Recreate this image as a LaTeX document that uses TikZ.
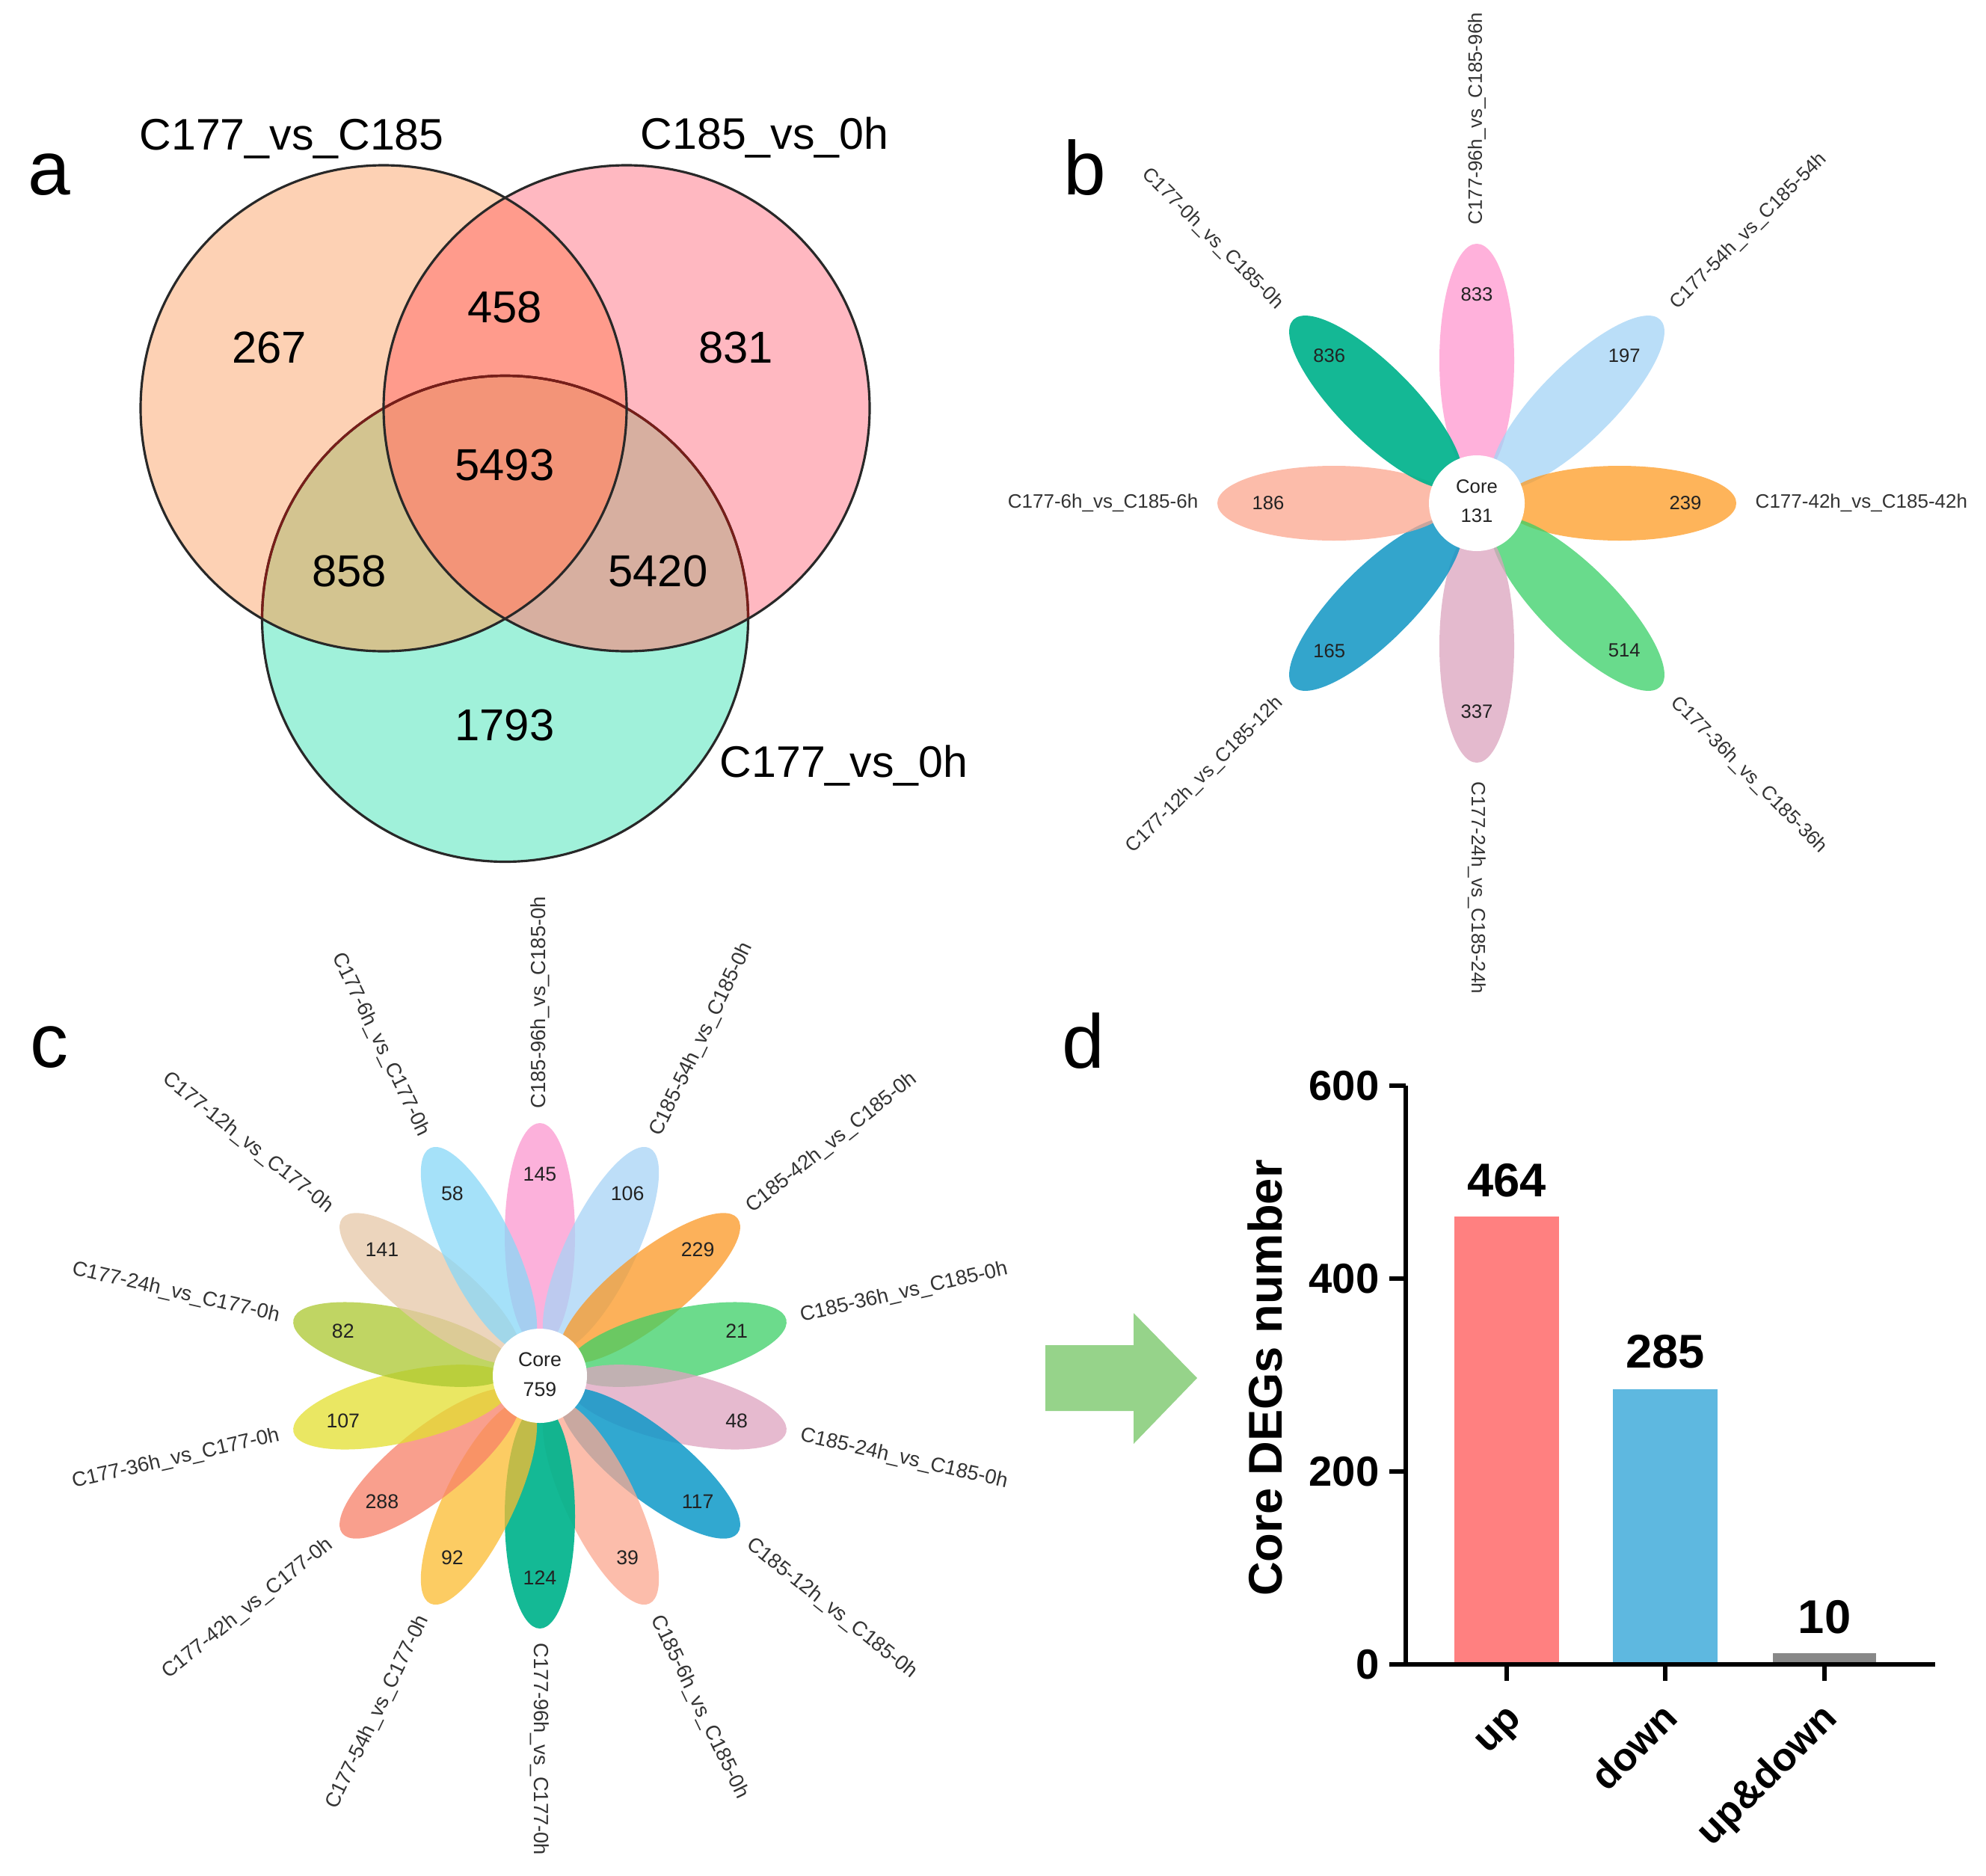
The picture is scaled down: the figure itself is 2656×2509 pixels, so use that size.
\documentclass[tikz,border=0pt]{standalone}
\usepackage{fontspec}
\setmainfont{Liberation Sans}
\usetikzlibrary{calc}
% Venn colours
\definecolor{vA}{RGB}{253,209,180}
\definecolor{vB}{RGB}{255,184,193}
\definecolor{vC}{RGB}{160,241,218}
\definecolor{vAB}{RGB}{255,155,140}
\definecolor{vAC}{RGB}{211,196,144}
\definecolor{vBC}{RGB}{215,175,160}
\definecolor{vABC}{RGB}{243,148,120}
\definecolor{vred}{RGB}{120,30,25}
\definecolor{vblack}{RGB}{40,40,40}
% flower b (base colours, drawn semi-transparent)
\definecolor{bPk}{RGB}{255,152,208}
\definecolor{bLb}{RGB}{164,211,246}
\definecolor{bOr}{RGB}{254,155,35}
\definecolor{bGr}{RGB}{56,207,102}
\definecolor{bMv}{RGB}{219,164,190}
\definecolor{bBl}{RGB}{16,150,196}
\definecolor{bSa}{RGB}{252,166,142}
\definecolor{bTe}{RGB}{0,179,141}
% flower c
\definecolor{cPk}{RGB}{251,152,208}
\definecolor{cLb}{RGB}{168,211,246}
\definecolor{cOr}{RGB}{251,152,35}
\definecolor{cGr}{RGB}{59,208,102}
\definecolor{cMv}{RGB}{222,164,192}
\definecolor{cBl}{RGB}{14,153,200}
\definecolor{cSa}{RGB}{252,168,144}
\definecolor{cTe}{RGB}{0,180,141}
\definecolor{cYo}{RGB}{252,188,48}
\definecolor{cCo}{RGB}{248,128,104}
\definecolor{cYe}{RGB}{227,224,48}
\definecolor{cOl}{RGB}{171,200,48}
\definecolor{cTa}{RGB}{230,200,168}
\definecolor{cSb}{RGB}{136,216,248}
% bars
\definecolor{arrowgreen}{RGB}{150,211,138}
\definecolor{barup}{RGB}{255,128,128}
\definecolor{bardown}{RGB}{94,184,224}
\definecolor{barboth}{RGB}{136,136,136}
\definecolor{numgray}{RGB}{34,34,34}
\definecolor{labgray}{RGB}{51,51,51}
\tikzset{
  plet/.style={font=\fontsize{29}{34}\selectfont, inner sep=0, anchor=base west},
  vnum/.style={font=\fontsize{17}{20}\selectfont, inner sep=0},
  vlab/.style={font=\fontsize{16.8}{20}\selectfont, inner sep=0, anchor=base west},
  vline/.style={line width=0.9pt, draw=vblack},
  bnum/.style={font=\fontsize{7.3}{9}\selectfont, inner sep=0, text=numgray},
  blab/.style={font=\fontsize{7.4}{9}\selectfont, inner sep=0, text=labgray},
  cnum/.style={font=\fontsize{7.6}{9}\selectfont, inner sep=0, text=numgray},
  clab/.style={font=\fontsize{7.8}{9}\selectfont, inner sep=0, text=labgray},
  axisline/.style={line width=1.7pt, draw=black},
  ticklab/.style={font=\bfseries\fontsize{16}{19}\selectfont, inner sep=0, anchor=east},
  vallab/.style={font=\bfseries\fontsize{18}{21}\selectfont, inner sep=0, anchor=base},
  catlab/.style={font=\bfseries\fontsize{15}{18}\selectfont, inner sep=0, anchor=base east, rotate=45},
}
\def\CA{(513,-546) circle [radius=325]}
\def\CB{(838,-546) circle [radius=325]}
\def\CC{(675.5,-827.5) circle [radius=325]}
\begin{document}
\begin{tikzpicture}[x=0.1mm,y=0.1mm]
\useasboundingbox (0,0) rectangle (2656,-2509);
\fill[white] (0,0) rectangle (2656,-2509);

% ---------------- panel a : Venn ----------------
\node[plet] (la) at (37,-260) {a};
\fill[vA] \CA;
\fill[vB] \CB;
\fill[vC] \CC;
\begin{scope}\clip \CA; \fill[vAB] \CB; \end{scope}
\begin{scope}\clip \CA; \fill[vAC] \CC; \end{scope}
\begin{scope}\clip \CB; \fill[vBC] \CC; \end{scope}
\begin{scope}\clip \CA; \clip \CB; \fill[vABC] \CC; \end{scope}
\draw[vline] \CC;
\begin{scope}\clip \CA; \draw[vline, draw=vred] \CC; \end{scope}
\begin{scope}\clip \CB; \draw[vline, draw=vred] \CC; \end{scope}
\draw[vline] \CA;
\draw[vline] \CB;
\node[vnum] (n267) at (360,-465) {267};
\node[vnum] (n458) at (675,-411) {458};
\node[vnum] (n831) at (984,-465) {831};
\node[vnum] (n5493) at (675,-622) {5493};
\node[vnum] (n858) at (467,-764) {858};
\node[vnum] (n5420) at (880,-764) {5420};
\node[vnum] (n1793) at (675,-970) {1793};
\node[vlab] (labA) at (186,-200) {C177\_vs\_C185};
\node[vlab] (labB) at (856,-199) {C185\_vs\_0h};
\node[vlab] (labC) at (962,-1039) {C177\_vs\_0h};

% ---------------- panel b : flower ----------------
\node[plet] (lb) at (1422,-260) {b};
\begin{scope}[shift={(1975,-673)}]
  \foreach \ang/\col/\op in {90/bPk/0.75,45/bLb/0.75,0/bOr/0.75,-45/bGr/0.75,-90/bMv/0.75,-135/bBl/0.85,180/bSa/0.75,135/bTe/0.92}
    \fill[fill=\col, fill opacity=\op, rotate=\ang] (191,0) ellipse [x radius=156, y radius=50];
  \fill[white] (0,0) circle [radius=64];
  \node[bnum] (bcore) at (0,22) {Core};
  \node[bnum] (bcorenum) at (0,-17) {131};
  \foreach \ang/\num/\rot/\anc/\lab [count=\i] in {
    90/833/90/west/{C177-96h\_vs\_C185-96h},
    45/197/45/west/{C177-54h\_vs\_C185-54h},
    0/239/0/west/{C177-42h\_vs\_C185-42h},
    -45/514/-45/west/{C177-36h\_vs\_C185-36h},
    -90/337/-90/west/{C177-24h\_vs\_C185-24h},
    -135/165/45/east/{C177-12h\_vs\_C185-12h},
    180/186/0/east/{C177-6h\_vs\_C185-6h},
    135/836/-45/east/{C177-0h\_vs\_C185-0h}}
  {
    \node[bnum] (bn\i) at (\ang:279) {\num};
    \node[blab, anchor=\anc, rotate=\rot] (bl\i) at (\ang:372) {\lab};
  }
\end{scope}

% ---------------- panel c : flower ----------------
\node[plet] (lc) at (40,-1427) {c};
\begin{scope}[shift={(722,-1840)}]
  \foreach \ang/\col/\op in {90/cPk/0.75,64.29/cLb/0.75,38.57/cOr/0.75,12.86/cGr/0.75,-12.86/cMv/0.75,-38.57/cBl/0.85,-64.29/cSa/0.75,-90/cTe/0.92,-115.71/cYo/0.75,-141.43/cCo/0.75,-167.14/cYe/0.75,167.14/cOl/0.75,141.43/cTa/0.75,115.71/cSb/0.75}
    \fill[fill=\col, fill opacity=\op, rotate=\ang] (188,0) ellipse [x radius=150, y radius=47];
  \fill[white] (0,0) circle [radius=63];
  \node[cnum] (ccore) at (0,22) {Core};
  \node[cnum] (ccorenum) at (0,-18) {759};
  \foreach \ang/\num/\rot/\anc/\lab [count=\i] in {
    90/145/90/west/{C185-96h\_vs\_C185-0h},
    64.29/106/64.29/west/{C185-54h\_vs\_C185-0h},
    38.57/229/38.57/west/{C185-42h\_vs\_C185-0h},
    12.86/21/12.86/west/{C185-36h\_vs\_C185-0h},
    -12.86/48/-12.86/west/{C185-24h\_vs\_C185-0h},
    -38.57/117/-38.57/west/{C185-12h\_vs\_C185-0h},
    -64.29/39/-64.29/west/{C185-6h\_vs\_C185-0h},
    -90/124/-90/west/{C177-96h\_vs\_C177-0h},
    -115.71/92/64.29/east/{C177-54h\_vs\_C177-0h},
    -141.43/288/38.57/east/{C177-42h\_vs\_C177-0h},
    -167.14/107/12.86/east/{C177-36h\_vs\_C177-0h},
    167.14/82/-12.86/east/{C177-24h\_vs\_C177-0h},
    141.43/141/-38.57/east/{C177-12h\_vs\_C177-0h},
    115.71/58/-64.29/east/{C177-6h\_vs\_C177-0h}}
  {
    \node[cnum] (cn\i) at (\ang:270) {\num};
    \node[clab, anchor=\anc, rotate=\rot] (cl\i) at (\ang:357) {\lab};
  }
\end{scope}

% ---------------- arrow ----------------
\fill[arrowgreen] (1398,-1799) -- (1516,-1799) -- (1516,-1756) -- (1601,-1843)
  -- (1516,-1931) -- (1516,-1887) -- (1398,-1887) -- cycle;

% ---------------- panel d : bars ----------------
\node[plet] (ld) at (1420,-1428) {d};
\fill[barup]   (1945,-2226) rectangle (2085,-1627);
\fill[bardown] (2157,-2226) rectangle (2297,-1858);
\fill[barboth] (2371,-2226) rectangle (2509,-2211);
\draw[axisline] (1880,-1452) -- (1880,-2226) -- (2588,-2226);
\foreach \v/\yy in {0/2226,200/1968,400/1710,600/1452} {
  \draw[axisline] (1858,-\yy) -- (1880,-\yy);
  \node[ticklab] (t\v) at (1845,-\yy) {\v};
}
\foreach \xx in {2015,2227,2440}
  \draw[axisline] (\xx,-2226) -- (\xx,-2248);
\node[vallab] (v464) at (2015,-1600) {464};
\node[vallab] (v285) at (2227,-1829) {285};
\node[vallab] (v10) at (2440,-2184) {10};
\node[catlab] (xup) at (2037,-2300) {up};
\node[catlab] (xdown) at (2247,-2300) {down};
\node[catlab] (xboth) at (2460,-2300) {up\&down};
\node[font=\bfseries\fontsize{18}{21}\selectfont, inner sep=0, anchor=base, rotate=90] (ytitle) at (1714,-1843) {Core DEGs number};
\end{tikzpicture}
\end{document}
